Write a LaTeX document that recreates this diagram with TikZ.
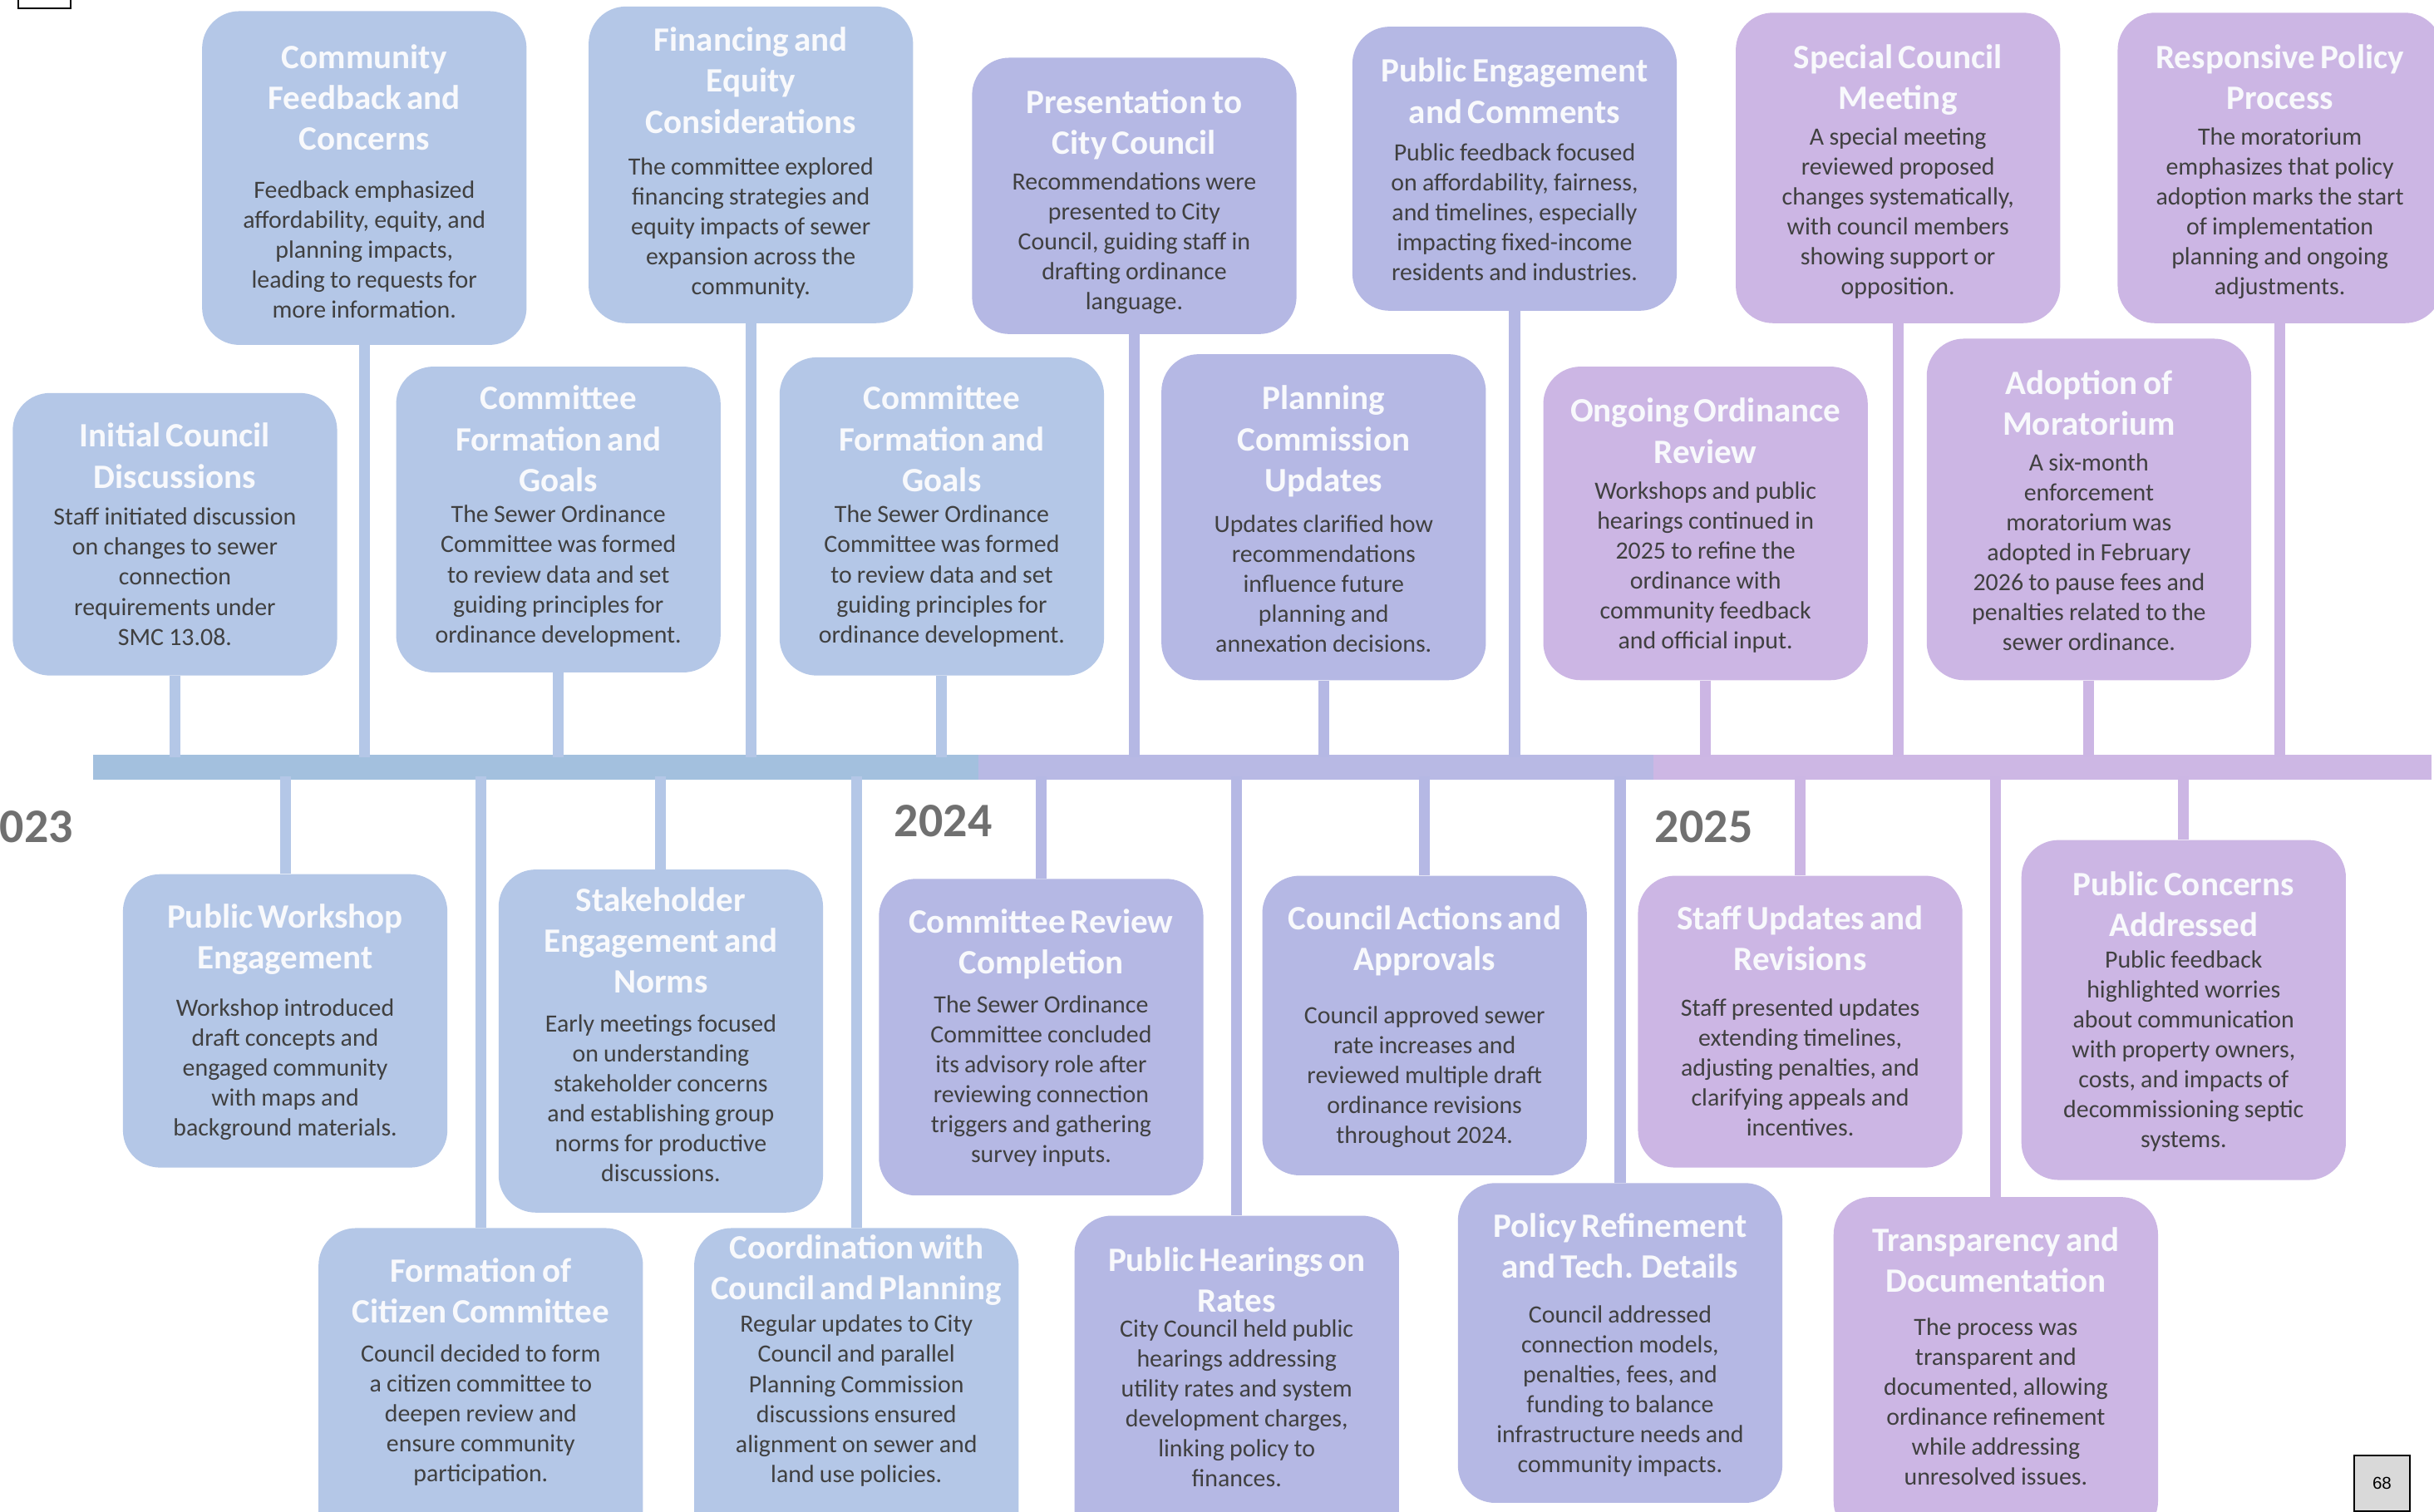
\documentclass[tikz,border=0pt]{standalone}
\usepackage{fontspec}
\setmainfont{Carlito}
\newfontfamily\arialfont{Liberation Sans}
\definecolor{bluebox}{RGB}{180,199,231}
\definecolor{peribox}{RGB}{181,184,228}
\definecolor{lilacbox}{RGB}{204,182,228}
\definecolor{bluebar}{RGB}{163,192,222}
\definecolor{peribar}{RGB}{184,185,228}
\definecolor{lilacbar}{RGB}{205,183,228}
\definecolor{bodytext}{RGB}{64,64,64}
\definecolor{yeartext}{RGB}{112,112,112}
\definecolor{titletext}{RGB}{248,249,252}
\definecolor{pagegray}{RGB}{217,217,217}

\newcommand\BoxTitle{\fontsize{22}{26.4}\selectfont\bfseries\color{titletext}}
\newcommand\BoxBody{\fontsize{16}{19.3}\selectfont\color{bodytext}}

% name, colour, x, y, height, baseline offset, title-body gap, title, body
\newcommand\EventBox[9]{%
  \node[evbox, fill=#2, minimum height=#5pt, anchor=north west] (#1) at (#3,-#4) {};
  \node[evtext, anchor=base] (#1t) at ([yshift=-#6pt]#1.north)
    {{\BoxTitle #8\par}\vskip\dimexpr#7pt-19.3pt\relax{\BoxBody #9\par}};
}
\newcommand\StemUp[2]{\draw[stem, draw=#2] (#1.south) -- ([yshift=-2pt]#1.south |- barA.north);}
\newcommand\StemDown[2]{\draw[stem, draw=#2] ([yshift=2pt]#1.north |- barA.south) -- (#1.north);}

\tikzset{
  evbox/.style={rectangle, rounded corners=24pt, minimum width=209pt, inner sep=0pt, draw=none},
  evtext/.style={text width=240pt, align=center, inner sep=0pt},
  stem/.style={line width=7pt},
  barseg/.style={rectangle, inner sep=0pt, minimum height=16pt, anchor=north west, draw=none},
  yearlabel/.style={font=\fontsize{31}{37}\selectfont\bfseries, text=yeartext, inner sep=0pt, anchor=base west},
}

\begin{document}
\begin{tikzpicture}[x=1pt,y=1pt]
\useasboundingbox (0,0) rectangle (1568,-973.6);
\fill[white] (0,0) rectangle (1568,-973.6);

% timeline bar
\node[barseg, fill=bluebar, minimum width=570pt] (barA) at (60,-486) {};
\node[barseg, fill=peribar, minimum width=435pt] (barB) at (630,-486) {};
\node[barseg, fill=lilacbar, minimum width=501pt] (barC) at (1065,-486) {};

% year labels
\node[yearlabel] (y2023) at (-16,-543) {2023};
\node[yearlabel] (y2024) at (576,-539) {2024};
\node[yearlabel] (y2025) at (1066,-543) {2025};

% upper far row
\EventBox{b1}{bluebox}{130}{7}{215}{37}{31}{Community\\Feedback and\\Concerns}{Feedback emphasized\\affordability, equity, and\\planning impacts,\\leading to requests for\\more information.}
\EventBox{b2}{bluebox}{379}{4}{204}{29}{27}{Financing and\\Equity\\Considerations}{The committee explored\\financing strategies and\\equity impacts of sewer\\expansion across the\\community.}
\EventBox{b3}{peribox}{626}{37}{178}{36}{23}{Presentation to\\City Council}{Recommendations were\\presented to City\\Council, guiding staff in\\drafting ordinance\\language.}
\EventBox{b4}{peribox}{871}{17}{183}{36}{24}{Public Engagement\\and Comments}{Public feedback focused\\on affordability, fairness,\\and timelines, especially\\impacting fixed-income\\residents and industries.}
\EventBox{b5}{lilacbox}{1118}{8}{200}{36}{23}{Special Council\\Meeting}{A special meeting\\reviewed proposed\\changes systematically,\\with council members\\showing support or\\opposition.}
\EventBox{b6}{lilacbox}{1364}{8}{200}{36}{23}{Responsive Policy\\Process}{The moratorium\\emphasizes that policy\\adoption marks the start\\of implementation\\planning and ongoing\\adjustments.}

% upper near row
\EventBox{b7}{bluebox}{8}{253}{182}{35}{24}{Initial Council\\Discussions}{Staff initiated discussion\\on changes to sewer\\connection\\requirements under\\SMC 13.08.}
\EventBox{b8}{bluebox}{255}{236}{197}{28}{20}{Committee\\Formation and\\Goals}{The Sewer Ordinance\\Committee was formed\\to review data and set\\guiding principles for\\ordinance development.}
\EventBox{b9}{bluebox}{502}{230}{205}{34}{20}{Committee\\Formation and\\Goals}{The Sewer Ordinance\\Committee was formed\\to review data and set\\guiding principles for\\ordinance development.}
\EventBox{b10}{peribox}{748}{228}{210}{36}{26}{Planning\\Commission\\Updates}{Updates clarified how\\recommendations\\influence future\\planning and\\annexation decisions.}
\EventBox{b11}{lilacbox}{994}{236}{202}{36}{23}{Ongoing Ordinance\\Review}{Workshops and public\\hearings continued in\\2025 to refine the\\ordinance with\\community feedback\\and official input.}
\EventBox{b12}{lilacbox}{1241}{218}{220}{36}{23}{Adoption of\\Moratorium}{A six-month\\enforcement\\moratorium was\\adopted in February\\2026 to pause fees and\\penalties related to the\\sewer ordinance.}

% lower near row
\EventBox{b13}{bluebox}{79}{563}{189}{35}{30}{Public Workshop\\Engagement}{Workshop introduced\\draft concepts and\\engaged community\\with maps and\\background materials.}
\EventBox{b14}{bluebox}{321}{560}{221}{27}{25}{Stakeholder\\Engagement and\\Norms}{Early meetings focused\\on understanding\\stakeholder concerns\\and establishing group\\norms for productive\\discussions.}
\EventBox{b15}{peribox}{566}{566}{204}{35}{25}{Committee Review\\Completion}{The Sewer Ordinance\\Committee concluded\\its advisory role after\\reviewing connection\\triggers and gathering\\survey inputs.}
\EventBox{b16}{peribox}{813}{564}{193}{35}{34}{Council Actions and\\Approvals}{Council approved sewer\\rate increases and\\reviewed multiple draft\\ordinance revisions\\throughout 2024.}
\EventBox{b17}{lilacbox}{1055}{564}{188}{35}{29}{Staff Updates and\\Revisions}{Staff presented updates\\extending timelines,\\adjusting penalties, and\\clarifying appeals and\\incentives.}
\EventBox{b18}{lilacbox}{1302}{541}{219}{36}{20}{Public Concerns\\Addressed}{Public feedback\\highlighted worries\\about communication\\with property owners,\\costs, and impacts of\\decommissioning septic\\systems.}

% lower far row
\EventBox{b19}{bluebox}{205}{791}{220}{35}{25}{Formation of\\Citizen Committee}{Council decided to form\\a citizen committee to\\deepen review and\\ensure community\\participation.}
\EventBox{b20}{bluebox}{447}{791}{220}{20}{21}{Coordination with\\Council and Planning}{Regular updates to City\\Council and parallel\\Planning Commission\\discussions ensured\\alignment on sewer and\\land use policies.}
\EventBox{b21}{peribox}{692}{783}{220}{36}{16}{Public Hearings on\\Rates}{City Council held public\\hearings addressing\\utility rates and system\\development charges,\\linking policy to\\finances.}
\EventBox{b22}{peribox}{939}{762}{206}{35}{29}{Policy Refinement\\and Tech. Details}{Council addressed\\connection models,\\penalties, fees, and\\funding to balance\\infrastructure needs and\\community impacts.}
\EventBox{b23}{lilacbox}{1181}{771}{220}{35}{28}{Transparency and\\Documentation}{The process was\\transparent and\\documented, allowing\\ordinance refinement\\while addressing\\unresolved issues.}

% stems to the bar
\StemUp{b1}{bluebox}\StemUp{b2}{bluebox}\StemUp{b3}{peribox}\StemUp{b4}{peribox}\StemUp{b5}{lilacbox}\StemUp{b6}{lilacbox}
\StemUp{b7}{bluebox}\StemUp{b8}{bluebox}\StemUp{b9}{bluebox}\StemUp{b10}{peribox}\StemUp{b11}{lilacbox}\StemUp{b12}{lilacbox}
\StemDown{b13}{bluebox}\StemDown{b14}{bluebox}\StemDown{b15}{peribox}\StemDown{b16}{peribox}\StemDown{b17}{lilacbox}\StemDown{b18}{lilacbox}
\StemDown{b19}{bluebox}\StemDown{b20}{bluebox}\StemDown{b21}{peribox}\StemDown{b22}{peribox}\StemDown{b23}{lilacbox}

% corner marks
\node[draw=black, fill=white, line width=1.2pt, minimum width=34pt, minimum height=14pt, inner sep=0pt, anchor=south west] (topmark) at (11,-6) {};
\node[draw=black, fill=pagegray, line width=1pt, minimum width=36pt, minimum height=36pt, inner sep=0pt, anchor=north west, font=\arialfont\fontsize{11}{13}\selectfont] (pagenum) at (1516,-937) {68};
\end{tikzpicture}
\end{document}
